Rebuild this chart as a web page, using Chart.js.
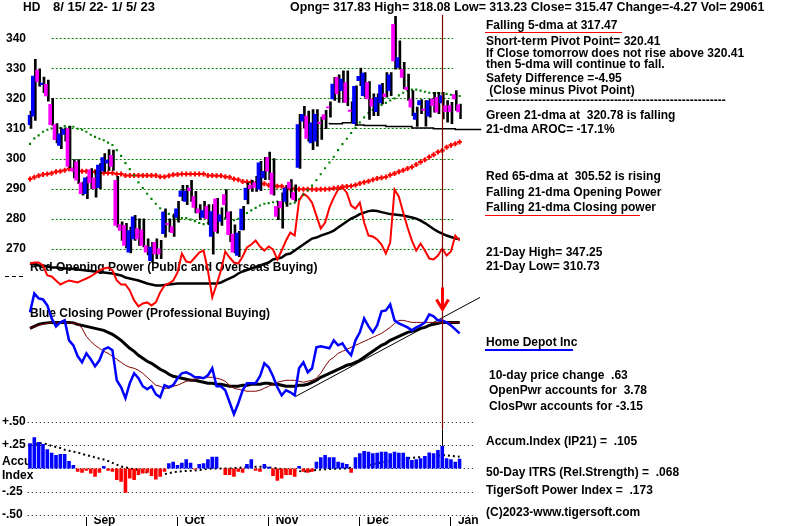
<!DOCTYPE html>
<html>
<head>
<meta charset="utf-8">
<title>HD 8/15/22 - 1/5/23</title>
<script src="https://cdn.jsdelivr.net/npm/chart.js@4.4.1/dist/chart.umd.min.js"></script>
<style>
  html, body { margin: 0; padding: 0; background: #fff; }
  #wrap { position: relative; width: 800px; height: 526px; overflow: hidden; background: #fff; }
  #chart { position: absolute; left: 0; top: 0; }
  .t { position: absolute; font: bold 12px "Liberation Sans", Arial, sans-serif; line-height: 14px; white-space: pre; color: #000; }
  .rule { position: absolute; height: 0; }
</style>
</head>
<body>
<div id="wrap">
  <canvas id="chart" width="800" height="526"></canvas>
</div>
<script>
// daily bars 8/15/22 .. 1/5/23
const opens = [311.3,314.1,329.4,324.6,324.7,318.0,311.3,304.4,308.0,310.0,
  296.7,298.9,291.9,288.3,296.3,293.6,290.3,295.9,298.5,301.1,
  292.8,278.1,277.8,268.9,273.3,276.7,276.3,271.1,266.1,272.2,
  270.0,275.0,278.5,277.4,280.4,287.4,285.8,290.2,287.4,283.3,
  280.4,284.1,274.1,286.6,279.1,288.0,282.2,274.9,267.8,276.3,
  286.3,291.1,291.9,289.8,293.6,300.4,295.2,284.1,285.8,285.8,
  292.2,288.7,297.1,312.4,314.1,305.2,305.8,312.1,314.6,317.2,
  319.8,327.0,322.6,325.3,316.1,311.6,325.9,320.9,325.3,319.8,
  315.6,318.5,321.5,322.6,344.6,330.3,329.7,323.7,319.8,313.0,
  317.8,316.5,314.1,319.8,320.4,318.5,317.6,317.6,321.3,317.83];
const highs = [315.8,333.0,329.8,327.1,326.1,320.0,311.6,310.2,310.2,310.8,
  299.7,299.7,292.2,293.9,296.7,296.1,298.3,301.7,303.0,302.8,
  294.1,279.0,278.5,277.2,281.1,280.0,280.0,273.3,272.2,273.3,
  272.8,283.3,280.0,281.6,285.8,291.1,291.1,292.8,289.1,284.7,
  285.8,284.7,284.7,286.8,283.6,289.7,282.4,278.0,275.8,284.1,
  291.9,292.8,294.1,299.1,300.4,302.2,300.0,285.8,288.6,291.1,
  293.0,291.3,314.7,317.4,315.8,316.3,316.3,313.8,316.0,318.9,
  327.0,327.8,329.2,329.2,318.9,324.2,330.1,328.6,325.6,321.5,
  321.5,325.0,328.6,328.6,347.25,339.1,332.0,328.1,322.6,317.1,
  319.6,319.3,319.8,322.0,322.0,322.0,319.3,318.7,322.6,318.08];
const lows = [310.0,312.7,324.1,321.9,319.1,311.0,305.2,303.3,305.8,296.9,
  293.6,291.7,287.8,286.7,290.0,287.2,290.0,295.6,296.1,296.1,
  277.2,272.8,270.3,268.6,272.8,271.1,270.6,268.0,265.6,266.7,
  266.7,273.9,275.6,274.1,278.9,286.0,284.7,285.8,281.9,279.7,
  280.2,278.0,268.2,275.2,277.8,280.2,272.4,268.6,267.4,276.3,
  284.9,289.1,289.1,289.3,293.0,293.0,287.8,279.7,276.9,284.1,
  286.9,285.8,296.7,310.2,305.8,303.0,304.1,306.4,309.9,313.8,
  319.3,318.7,318.7,317.6,312.1,311.0,324.2,320.4,313.0,314.3,
  314.3,318.2,320.4,320.9,329.7,329.7,323.2,319.3,314.3,310.73,
  314.9,310.8,313.8,315.4,314.9,313.2,312.1,311.6,316.0,313.23];
const closes = [314.4,327.4,325.6,325.1,320.8,311.3,306.3,308.2,309.7,297.4,
  295.8,292.8,288.3,293.6,291.9,290.0,297.8,300.3,299.5,297.4,
  277.8,276.1,271.1,276.1,280.6,273.3,271.1,268.9,270.6,268.3,
  268.3,282.2,278.0,275.4,283.3,289.3,289.3,289.3,283.8,281.9,
  282.7,280.0,282.4,275.8,281.3,284.7,274.7,268.9,275.2,283.2,
  290.2,290.0,290.4,298.6,295.8,295.8,288.2,280.8,283.6,290.2,
  290.2,286.3,311.3,314.7,306.7,311.9,314.7,311.6,313.0,316.8,
  324.8,321.5,326.4,318.7,315.7,324.0,327.3,328.4,319.8,317.4,
  320.4,324.5,320.6,327.8,332.5,333.6,327.0,322.9,317.1,315.1,
  319.3,316.0,319.3,317.6,315.4,320.9,315.6,315.6,319.8,315.47];

const ma21 = [304.9,306.7,307.7,308.9,309.6,310.0,310.2,310.2,310.8,310.5,
  310.6,309.9,309.6,308.9,307.9,307.2,306.6,306.1,305.3,304.5,
  302.8,300.9,298.5,296.5,294.4,292.1,290.2,288.3,286.6,285.0,
  283.5,282.2,281.6,280.8,280.3,280.2,280.2,279.7,279.2,278.6,
  278.2,278.6,279.4,280.0,279.7,280.2,280.0,279.5,280.0,281.0,
  281.9,282.8,283.6,284.4,285.0,285.2,285.5,285.7,285.5,285.2,
  285.0,285.3,286.5,288.0,289.5,291.0,292.8,294.8,296.8,298.7,
  300.6,302.8,304.8,306.6,308.5,310.2,312.0,313.7,315.1,316.2,
  317.1,317.8,318.5,319.3,320.0,321.0,321.9,322.5,322.9,322.9,
  322.6,322.2,321.9,321.8,321.8,321.7,321.5,321.2,321.0,320.8];
const ma65 = [293.2,293.8,294.3,294.7,294.9,295.1,295.6,295.8,296.1,296.6,
  296.3,296.0,295.8,295.8,295.6,295.6,295.2,295.2,295.2,295.2,
  294.9,294.9,294.4,294.4,294.4,294.4,294.4,294.4,294.4,294.4,
  294.0,294.0,294.3,294.6,294.7,294.9,294.9,294.9,294.9,294.9,
  294.9,294.4,294.4,294.3,294.3,294.0,293.8,293.2,293.0,292.4,
  292.2,292.2,291.6,291.6,291.6,291.1,291.1,290.8,290.8,290.2,
  290.0,290.0,289.8,289.8,289.8,289.8,289.7,289.8,289.8,289.9,
  290.1,290.3,290.6,290.7,290.9,291.2,291.7,292.1,292.5,293.0,
  293.4,293.6,293.9,294.5,295.0,295.6,296.1,296.7,297.2,298.0,
  298.9,299.6,300.5,301.3,302.2,302.7,303.8,304.4,304.9,305.5];
// 21-day low support steps
const supportDays = [69, 72, 75, 77, 82, 88, 93, 98, 104];
const supportLevels = [311.9, 311.55, 311.9, 311.2, 311.0, 310.7, 310.2, 309.9, 309.7];

// power lines (relative units)
const openPwr = [37,38,38,35,25,24,20,16,18,20,
  19,18,20,22,24,27,30,32,33,30,
  20,16,16,10,0,-6,-3,-2,-5,-2,
  8,15,17,20,28,47,39,38,43,48,
  50,30,3,16,30,49,43,38,37,44,
  53,56,60,54,50,54,51,41,50,60,
  68,65,100,107,104,98,85,72,78,93,
  103,111,113,108,95,92,98,78,65,64,
  61,56,47,58,111,104,88,73,60,50,
  57,50,42,41,45,52,45,49,65,60];
const openPwrMa = [37,36,35,35,34,33,33,32.5,32,32,
  31.5,31,30.5,30,29.5,29,28.5,28,27.5,27,
  26,25,23,22,21,20,18.5,17,16,15,
  15,15.5,16,16.5,17,17,17,17,17,17,
  17,17,17,17,18,20,22,24,27,29,
  30.5,32,33.5,35,36.5,38,41,42,43,46,
  47,50,53,56,59,62,63,65,66.5,68,
  70,73,76,79,82,84,86.5,88,89.5,90,
  89.5,88.5,87.5,86.5,86,85.5,85,84,83,82,
  80,77.5,74.5,71.5,69,67,65,63.5,62,61.5];
const closPwr = [-12,7,2,1,-5,-18,-26,-22,-20,-40,
  -45,-56,-62,-53,-59,-66,-60,-49,-47,-50,
  -80,-87,-98,-83,-73,-78,-86,-89,-86,-94,
  -97,-85,-87,-85,-78,-73,-72,-74,-77,-77,
  -78,-75,-68,-86,-86,-90,-102,-114,-103,-90,
  -83,-83,-83,-76,-63,-67,-76,-87,-95,-90,
  -92,-95,-68,-62,-72,-68,-47,-46,-47,-48,
  -40,-45,-43,-50,-55,-40,-32,-18,-26,-32,
  -25,-11,-10,-4,-20,-23,-25,-27,-30,-27,
  -25,-22,-14,-16,-20,-20,-22,-25,-29,-33];
const closPwrMa = [-28,-26,-24,-23,-22.5,-22,-22,-22,-22,-22,
  -22.5,-24,-25,-26,-27,-28,-29,-30,-32,-34,
  -37,-40,-44,-48,-51,-55,-58,-61,-63,-66,
  -69,-71,-74,-76,-77,-78,-79,-80,-80,-81,
  -82,-83,-83,-84,-84,-85,-86,-86,-86,-85,
  -85,-84,-84,-84,-83,-83,-84,-84,-85,-86,
  -86,-86,-85,-85,-84,-82,-80,-77,-75,-73,
  -71,-69,-67,-65,-64,-62,-60,-57,-54,-51,
  -48,-45,-43,-40,-38,-36,-34,-32,-31,-30,
  -28,-27,-25,-24,-23,-22,-22,-22,-22,-22];
const closPwrMa2 = [-28,-26,-25,-24,-23,-22,-22,-22,-22,-22.5,
  -23,-23,-28,-36,-41,-45,-48,-51,-53,-56,
  -59,-62,-65,-67,-68,-70,-73,-77,-81,-85,
  -86,-88,-88,-86,-85,-83,-81,-80,-79,-78,
  -78,-77,-77,-78,-79,-81,-85,-88,-89,-90,
  -91,-91,-91,-90,-88,-86,-84,-82,-81,-80,
  -80,-80,-81,-82,-81,-80,-78,-73,-66,-60,
  -57,-53,-51,-49,-47,-45,-43,-41,-39,-37,
  -35,-33,-30,-27,-23,-20,-20,-21,-22,-22,
  -22,-22,-22,-22,-22,-22,-22,-22,-22,-22];
const trendDays = [61.3, 103.7];
const trendLevels = [-96, 3];

const accum = [0.27,0.334,0.284,0.262,0.205,0.169,0.144,0.154,0.154,0.079,
  0.036,-0.036,-0.047,-0.025,-0.054,-0.09,-0.047,0.025,-0.025,-0.036,
  -0.126,-0.144,-0.262,-0.108,-0.126,-0.072,-0.054,-0.047,-0.083,-0.119,
  -0.09,-0.036,0.054,0.072,0.036,0.061,0.097,0.061,-0.011,0.047,
  0.054,0.097,0.126,0.126,-0.005,-0.072,-0.072,-0.09,-0.036,-0.047,
  0.047,0.097,-0.025,-0.036,0.047,0.018,-0.083,-0.133,-0.108,-0.072,
  -0.072,-0.09,0.025,-0.036,-0.047,-0.036,0.072,0.119,0.144,0.119,
  0.119,0.072,0.061,0.047,-0.047,0.119,0.162,0.187,0.18,0.162,
  0.169,0.18,0.18,0.162,0.18,0.169,0.169,0.126,0.09,0.097,
  0.108,0.133,0.172,0.162,0.198,0.241,0.108,0.097,0.072,0.105];
const accumMa = [0.25,0.26,0.27,0.27,0.26,0.24,0.23,0.22,0.2,0.19,
  0.18,0.17,0.155,0.144,0.13,0.12,0.105,0.095,0.08,0.06,
  0.04,0.02,0.01,0,-0.01,-0.018,-0.03,-0.045,-0.06,-0.068,
  -0.072,-0.062,-0.052,-0.042,-0.035,-0.031,-0.028,-0.025,-0.022,-0.018,
  -0.012,-0.006,0,0,0,0,0,0.003,0.007,0.011,
  0.015,0.018,0.018,0.018,0.018,0.012,0.006,0,-0.006,-0.011,
  -0.017,-0.023,-0.029,-0.035,-0.03,-0.023,-0.017,-0.011,-0.009,-0.007,
  -0.005,-0.003,-0.001,0,0.006,0.012,0.018,0.024,0.035,0.045,
  0.055,0.061,0.07,0.079,0.088,0.097,0.103,0.108,0.114,0.119,
  0.121,0.123,0.125,0.128,0.136,0.144,0.14,0.135,0.13,0.126];

const priceTicks = [340, 330, 320, 310, 300, 290, 280, 270];
const accTicks = [0.5, 0.25, 0, -0.25, -0.5];
const accLabels = ['+.50', '+.25', ['Accu', 'Index'], '-.25', '-.50'];
const monthLabels = ['Sep', 'Oct', 'Nov', 'Dec', 'Jan'];
const monthStarts = [13, 34, 55, 76, 97];
const markerDay = 95;

// layout
const AREA_TOP = 8, AREA_BOTTOM = 517, AREA_LEFT = 27.8, AREA_RIGHT = 461.8;
const FONT = '"Liberation Sans", Arial, sans-serif';
const BLUE = '#0000ff', MAGENTA = '#ff00ff', RED = '#ff0000', GREEN = '#008000', DARKRED = '#800000';

function fitRange(vHi, yHi, vLo, yLo) {
  const k = (vHi - vLo) / (yLo - yHi);
  return { min: vHi - (AREA_BOTTOM - yHi) * k, max: vHi + (yHi - AREA_TOP) * k };
}
const priceRange = fitRange(340, 37.3, 270, 248.3);
const pwRange = fitRange(100, 200, 0, 300);
const accRange = fitRange(0.5, 421.7, 0, 468.3);

const pts = arr => arr.map((v, i) => ({ x: i, y: v }));
const line = (label, data, color, width, axis) => ({
  type: 'line', label, data, yAxisID: axis, borderColor: color, borderWidth: width,
  pointRadius: 0, pointHoverRadius: 0, tension: 0, fill: false
});

const panelArt = {
  id: 'panelArt',
  beforeDatasetsDraw(chart) {
    const { ctx, scales } = chart;
    const x = scales.x, price = scales.price, acc = scales.acc;
    ctx.save();
    ctx.lineWidth = 1;
    ctx.strokeStyle = GREEN;
    ctx.setLineDash([2, 2]);
    priceTicks.forEach(v => {
      const y = Math.round(price.getPixelForValue(v)) + 0.5;
      ctx.beginPath();
      ctx.moveTo(x.getPixelForValue(5), y);
      ctx.lineTo(x.getPixelForValue(97.5), y);
      ctx.stroke();
    });
    ctx.strokeStyle = '#000';
    ctx.setLineDash([1, 3]);
    accTicks.forEach(v => {
      const y = Math.round(acc.getPixelForValue(v)) + 0.5;
      ctx.beginPath();
      ctx.moveTo(x.getPixelForValue(-0.5), y);
      ctx.lineTo(x.getPixelForValue(102.3), y);
      ctx.stroke();
    });
    ctx.setLineDash([4, 3]);
    ctx.beginPath();
    ctx.moveTo(5, 276.5);
    ctx.lineTo(26, 276.5);
    ctx.stroke();
    ctx.setLineDash([]);
    ctx.fillStyle = '#000';
    ctx.font = 'bold 12px ' + FONT;
    ctx.textBaseline = 'middle';
    ctx.fillText('Red Opening Power (Public and Overseas Buying)', 30, 268);
    ctx.fillText('Blue Closing Power (Professional Buying)', 30, 314);
    ctx.restore();
  },
  afterDatasetsDraw(chart) {
    const { ctx, scales } = chart;
    const xm = Math.round(scales.x.getPixelForValue(markerDay)) + 0.5;
    const pw = v => scales.pw.getPixelForValue(v);
    ctx.save();
    ctx.lineWidth = 1.2;
    ctx.strokeStyle = DARKRED;
    ctx.beginPath();
    ctx.moveTo(xm, scales.price.getPixelForValue(347.8));
    ctx.lineTo(xm, scales.acc.getPixelForValue(0.42));
    ctx.stroke();
    ctx.strokeStyle = '#000';
    ctx.lineWidth = 1;
    ctx.beginPath();
    ctx.moveTo(xm, scales.acc.getPixelForValue(0.42));
    ctx.lineTo(xm, scales.acc.getPixelForValue(accum[markerDay]));
    ctx.stroke();
    ctx.strokeStyle = RED;
    ctx.lineWidth = 3;
    ctx.beginPath();
    ctx.moveTo(xm, pw(13));
    ctx.lineTo(xm, pw(-9));
    ctx.moveTo(xm - 6, pw(1));
    ctx.lineTo(xm, pw(-9));
    ctx.lineTo(xm + 6, pw(1));
    ctx.stroke();
    ctx.restore();
  }
};

Chart.defaults.font.family = FONT;

new Chart(document.getElementById('chart'), {
  type: 'bar',
  data: {
    datasets: [
      { type: 'bar', label: 'body', data: closes.map((c, i) => ({ x: i, y: [opens[i], c] })),
        backgroundColor: closes.map((c, i) => c >= opens[i] ? BLUE : MAGENTA),
        barThickness: 3, stack: 'body', yAxisID: 'price', borderWidth: 0 },
      { type: 'bar', label: 'range', data: highs.map((h, i) => ({ x: i, y: [lows[i], h] })),
        backgroundColor: '#000', barThickness: 2, stack: 'range', yAxisID: 'price', borderWidth: 0 },
      { type: 'line', label: '21-dma', data: pts(ma21), yAxisID: 'price', showLine: false,
        pointStyle: 'rect', pointRadius: 1.5, pointBorderWidth: 0, pointBackgroundColor: GREEN },
      { type: 'line', label: '65-dma', data: pts(ma65), yAxisID: 'price', showLine: false,
        pointStyle: 'cross', pointRadius: 2.5, pointBorderWidth: 2, pointBorderColor: RED },
      Object.assign(line('21-day low', supportDays.map((d, i) => ({ x: d, y: supportLevels[i] })), '#000', 1.5, 'price'),
        { stepped: 'after', clip: false }),
      line('Opening Power', pts(openPwr), RED, 2, 'pw'),
      line('Opening Power MA', pts(openPwrMa), '#000', 2.5, 'pw'),
      line('Closing Power', pts(closPwr), BLUE, 2.5, 'pw'),
      line('Closing Power MA2', pts(closPwrMa2), DARKRED, 1, 'pw'),
      line('Closing Power MA', pts(closPwrMa), '#000', 3, 'pw'),
      Object.assign(line('trend', trendDays.map((d, i) => ({ x: d, y: trendLevels[i] })), '#000', 1, 'pw'), { clip: false }),
      { type: 'bar', label: 'Accum', data: pts(accum), yAxisID: 'acc', grouped: false,
        categoryPercentage: 1, barPercentage: 0.83, borderWidth: 0,
        backgroundColor: accum.map(v => v >= 0 ? BLUE : RED) },
      Object.assign(line('Accum MA', pts(accumMa), '#000', 2, 'acc'), { borderDash: [2, 3] })
    ]
  },
  options: {
    responsive: false,
    devicePixelRatio: 1,
    animation: false,
    events: [],
    layout: { padding: { left: 2, right: 800 - AREA_RIGHT, top: AREA_TOP, bottom: 0 } },
    plugins: { legend: { display: false }, tooltip: { enabled: false } },
    scales: {
      x: {
        type: 'linear', position: 'bottom', min: -0.5, max: closes.length - 0.5, offset: false, bounds: 'data',
        afterBuildTicks: s => { s.ticks = monthStarts.map(v => ({ value: v })); },
        afterFit: s => { s.height = 526 - AREA_BOTTOM; },
        grid: { offset: false, drawOnChartArea: false, drawTicks: true, tickLength: 11, color: '#000', lineWidth: 1 },
        border: { display: false },
        ticks: { autoSkip: false, maxRotation: 0, align: 'start', labelOffset: 7, padding: -14.2,
          color: '#000', font: { weight: 'bold', size: 12 }, callback: (v, i) => monthLabels[i] }
      },
      price: {
        type: 'linear', position: 'left', weight: 1, min: priceRange.min, max: priceRange.max,
        bounds: 'data', beginAtZero: false,
        afterBuildTicks: s => { s.ticks = priceTicks.map(v => ({ value: v })); },
        afterFit: s => { s.width = AREA_LEFT - 2; },
        grid: { display: false, drawTicks: false }, border: { display: false },
        ticks: { autoSkip: false, padding: 1.8, color: '#000', font: { weight: 'bold', size: 12 },
          callback: v => String(v) }
      },
      acc: {
        type: 'linear', position: 'left', weight: 0, min: accRange.min, max: accRange.max,
        bounds: 'data', beginAtZero: false,
        afterBuildTicks: s => { s.ticks = accTicks.map(v => ({ value: v })); },
        afterFit: s => { s.width = 0; },
        grid: { display: false, drawTicks: false }, border: { display: false },
        ticks: { autoSkip: false, mirror: true, padding: 2 - AREA_LEFT, color: '#000',
          font: { weight: 'bold', size: 12 }, callback: (v, i) => accLabels[i] }
      },
      pw: { type: 'linear', position: 'left', display: false, min: pwRange.min, max: pwRange.max, bounds: 'data', beginAtZero: false }
    }
  },
  plugins: [panelArt]
});

// header and the study notes on the right
const notes = [
  ['HD', 23, 7],
  ['8/ 15/ 22- 1/ 5/ 23', 53, 7, 13],
  ['Opng= 317.83 High= 318.08 Low= 313.23 Close= 315.47 Change=-4.27 Vol= 29061', 290, 7, 12.4],
  ['Falling 5-dma at 317.47', 486, 25],
  ['Short-term Pivot Point= 320.41', 486, 41],
  ['If Close tomorrow does not rise above 320.41', 486, 53],
  ['then 5-dma will continue to fall.', 486, 64],
  ['Safety Difference =-4.95', 486, 78],
  [' (Close minus Pivot Point)', 486, 90],
  ['------------------------------------------------------------', 486, 100],
  ['Green 21-dma at  320.78 is falling', 486, 115],
  ['21-dma AROC= -17.1%', 486, 129],
  ['Red 65-dma at  305.52 is rising', 486, 176],
  ['Falling 21-dma Opening Power', 486, 192],
  ['Falling 21-dma Closing power', 486, 207],
  ['21-Day High= 347.25', 486, 252],
  ['21-Day Low= 310.73', 486, 266],
  ['Home Depot Inc', 486, 342],
  ['10-day price change  .63', 489, 375],
  ['OpenPwr accounts for  3.78', 489, 390],
  ['ClosPwr accounts for -3.15', 489, 406],
  ['Accum.Index (IP21) =  .105', 486, 441],
  ['50-Day ITRS (Rel.Strength) =  .068', 486, 472],
  ['TigerSoft Power Index =  .173', 486, 490],
  ['(C)2023-www.tigersoft.com', 486, 512]
];
const rules = [
  [485, 32, 137, 1.5, RED],
  [485, 215, 155, 1.5, RED],
  [485, 349, 88, 2, BLUE]
];
const wrap = document.getElementById('wrap');
notes.forEach(([text, x, y, size]) => {
  const el = document.createElement('div');
  el.className = 't';
  el.textContent = text;
  el.style.left = x + 'px';
  el.style.top = (y - 7) + 'px';
  if (size) el.style.fontSize = size + 'px';
  wrap.appendChild(el);
});
rules.forEach(([x, y, w, h, color]) => {
  const el = document.createElement('div');
  el.className = 'rule';
  el.style.left = x + 'px';
  el.style.top = y + 'px';
  el.style.width = w + 'px';
  el.style.borderTop = h + 'px solid ' + color;
  wrap.appendChild(el);
});
</script>
</body>
</html>
